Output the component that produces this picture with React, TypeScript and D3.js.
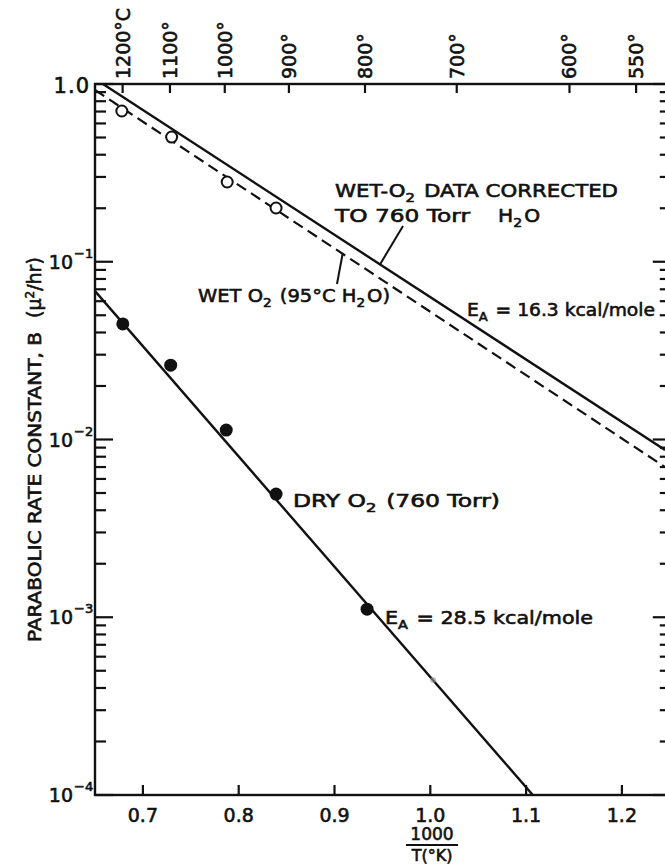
import React from "react";
import * as d3 from "d3";

// Reciprocal temperature axis (1000/T, T in K) and parabolic rate constant (µm²/hr)
const xTicks = [0.7, 0.8, 0.9, 1.0, 1.1, 1.2];
const xTickLabels = ["0.7", "0.8", "0.9", "1.0", "1.1", "1.2"];
const tempC = [1200, 1100, 1000, 900, 800, 700, 600, 550];
const tempLabels = ["1200°C", "1100°", "1000°", "900°", "800°", "700°", "600°", "550°"];
const decadeExps = [0, -1, -2, -3, -4];

// Wet O2 (95°C H2O) measurements
const wetX = [0.678, 0.730, 0.788, 0.839];
const wetB = [0.705, 0.503, 0.281, 0.2006];

// Dry O2 (760 Torr) measurements
const dryX = [0.679, 0.729, 0.787, 0.839, 0.934];
const dryB = [0.0447, 0.0262, 0.0113, 0.00493, 0.00111];
const dryFaintX = [1.003];
const dryFaintB = [0.000444];

// Fitted Arrhenius lines (end points)
const wetCorrLineX = [0.6583, 1.245];
const wetCorrLineB = [1.0, 0.00873];
const wetLineX = [0.65, 1.245];
const wetLineB = [0.925, 0.007];
const dryLineX = [0.65, 1.107];
const dryLineB = [0.0684, 0.0001];

const W = 665;
const H = 864;
const left = 95;
const top = 84;
const bottom = 795;
const right = 669.8;

const FONT = "'DejaVu Sans', Verdana, sans-serif";
const INK = "#111";

const x = d3.scaleLinear().domain([0.65, 1.25]).range([left, right]);
const y = d3.scaleLog().domain([1e-4, 1]).range([bottom, top]);

const minorVals: number[] = [];
for (let e = -4; e < 0; e++) {
  for (let k = 2; k <= 9; k++) minorVals.push(k * Math.pow(10, e));
}

const line = d3
  .line<[number, number]>()
  .x((d) => x(d[0]))
  .y((d) => y(d[1]));

const zip = (a: number[], b: number[]) => a.map((v, i) => [v, b[i]] as [number, number]);

// value of a straight (log-linear) fit line at a given 1000/T
const onLine = (lx: number[], lb: number[], xv: number) => {
  const t = (xv - lx[0]) / (lx[1] - lx[0]);
  return Math.pow(10, Math.log10(lb[0]) + t * (Math.log10(lb[1]) - Math.log10(lb[0])));
};

const txt = {
  fontFamily: FONT,
  fill: INK,
  stroke: INK,
  strokeWidth: 0.6,
} as const;

function Sub({ children }: { children: string }) {
  return (
    <>
      <tspan dy={5} fontSize="0.7em">
        {children}
      </tspan>
      <tspan dy={-5}>{"\u200A"}</tspan>
    </>
  );
}

export default function App() {
  const corrTipX = 0.9475;
  const wetTipX = 0.9085;
  const corrTip = [x(corrTipX), y(onLine(wetCorrLineX, wetCorrLineB, corrTipX))];
  const wetTip = [x(wetTipX), y(onLine(wetLineX, wetLineB, wetTipX))];

  return (
    <svg
      width={W}
      height={H}
      viewBox={`0 0 ${W} ${H}`}
      style={{ position: "absolute", left: 0, top: 0, background: "#fff" }}
    >
      <defs>
        <clipPath id="plot">
          <rect x={left} y={top} width={right - left} height={bottom - top} />
        </clipPath>
      </defs>
      <rect width={W} height={H} fill="#fff" />

      {/* frame */}
      <rect
        x={left}
        y={top}
        width={right - left}
        height={bottom - top}
        fill="none"
        stroke={INK}
        strokeWidth={2.4}
      />

      {/* left axis ticks */}
      {decadeExps.map((e) => (
        <line key={"lm" + e} x1={left} x2={left + 18} y1={y(Math.pow(10, e))} y2={y(Math.pow(10, e))} stroke={INK} strokeWidth={2.2} />
      ))}
      {minorVals.map((v, i) => (
        <line key={"ln" + i} x1={left} x2={left + 11} y1={y(v)} y2={y(v)} stroke={INK} strokeWidth={2.2} />
      ))}
      {/* right axis ticks */}
      {decadeExps.map((e) => (
        <line key={"rm" + e} x1={right} x2={right - 17} y1={y(Math.pow(10, e))} y2={y(Math.pow(10, e))} stroke={INK} strokeWidth={2.2} />
      ))}
      {minorVals.map((v, i) => (
        <line key={"rn" + i} x1={right} x2={right - 10} y1={y(v)} y2={y(v)} stroke={INK} strokeWidth={2.2} />
      ))}

      {/* bottom ticks and labels */}
      {xTicks.map((v, i) => (
        <g key={"bx" + i}>
          <line x1={x(v)} x2={x(v)} y1={bottom} y2={bottom - 10} stroke={INK} strokeWidth={2.2} />
          <text x={x(v)} y={822} fontSize={19} textAnchor="middle" {...txt}>
            {xTickLabels[i]}
          </text>
        </g>
      ))}

      {/* top temperature ticks and labels */}
      {tempC.map((t, i) => {
        const xv = x(1000 / (t + 273.15));
        return (
          <g key={"tx" + i}>
            <line x1={xv} x2={xv} y1={top} y2={top + 9} stroke={INK} strokeWidth={2.2} />
            <text
              transform={`translate(${xv + 7},${top - 5}) rotate(-90)`}
              fontSize={19}
              {...txt}
            >
              {tempLabels[i]}
            </text>
          </g>
        );
      })}

      {/* left decade labels */}
      <text x={90} y={93} fontSize={21} textAnchor="end" letterSpacing={1} {...txt}>
        1.0
      </text>
      {decadeExps
        .filter((e) => e < 0)
        .map((e) => (
          <g key={"dl" + e}>
            <text x={73} y={y(Math.pow(10, e)) + 7} fontSize={19} textAnchor="end" {...txt}>
              10
            </text>
            <text x={74} y={y(Math.pow(10, e)) - 4} fontSize={13} {...txt}>
              {String(e).replace("-", "\u2212")}
            </text>
          </g>
        ))}

      {/* axis titles */}
      <text transform="translate(41,642) rotate(-90)" fontSize={17} textLength={310} lengthAdjust="spacingAndGlyphs" {...txt}>
        PARABOLIC RATE CONSTANT, B
      </text>
      <text transform="translate(41,318) rotate(-90)" fontSize={19} {...txt}>
        (µ
        <tspan dy={-7} fontSize={12}>
          2
        </tspan>
        <tspan dy={7}>/hr)</tspan>
      </text>
      <text x={432} y={840} fontSize={17} textAnchor="middle" {...txt}>
        1000
      </text>
      <line x1={406} x2={458} y1={845} y2={845} stroke={INK} strokeWidth={2.2} />
      <text x={432} y={861} fontSize={16} textAnchor="middle" {...txt}>
        T(°K)
      </text>

      {/* fit lines */}
      <g clipPath="url(#plot)" fill="none" stroke={INK}>
        <path d={line(zip(wetCorrLineX, wetCorrLineB)) || ""} strokeWidth={2.4} />
        <path d={line(zip(wetLineX, wetLineB)) || ""} strokeWidth={2.2} strokeDasharray="11 6" />
        <path d={line(zip(dryLineX, dryLineB)) || ""} strokeWidth={2.4} />
      </g>

      {/* data points */}
      {wetX.map((v, i) => (
        <circle key={"w" + i} cx={x(v)} cy={y(wetB[i])} r={5.5} fill="#fff" stroke={INK} strokeWidth={2} />
      ))}
      {dryX.map((v, i) => (
        <circle key={"d" + i} cx={x(v)} cy={y(dryB[i])} r={6.5} fill={INK} />
      ))}
      {dryFaintX.map((v, i) => (
        <circle key={"f" + i} cx={x(v)} cy={y(dryFaintB[i])} r={3} fill="#999" opacity={0.6} />
      ))}

      {/* annotations */}
      <text x={335} y={197} fontSize={18} textLength={283} lengthAdjust="spacingAndGlyphs" {...txt}>
        WET-O<Sub>2</Sub> DATA CORRECTED
      </text>
      <text x={335} y={222} fontSize={18} textLength={135} lengthAdjust="spacingAndGlyphs" {...txt}>
        TO 760 Torr
      </text>
      <text x={498} y={222} fontSize={18} textLength={42} lengthAdjust="spacingAndGlyphs" {...txt}>
        H<Sub>2</Sub>O
      </text>
      <line x1={403} y1={226} x2={corrTip[0]} y2={corrTip[1]} stroke={INK} strokeWidth={2} />

      <text x={198} y={302} fontSize={18} textLength={192} lengthAdjust="spacingAndGlyphs" {...txt}>
        WET O<Sub>2</Sub> (95°C H<Sub>2</Sub>O)
      </text>
      <line x1={337} y1={284} x2={wetTip[0]} y2={wetTip[1]} stroke={INK} strokeWidth={2} />

      <text x={467} y={316} fontSize={18} textLength={188} lengthAdjust="spacingAndGlyphs" {...txt}>
        E<Sub>A</Sub> = 16.3 kcal/mole
      </text>

      <text x={293} y={507} fontSize={17} textLength={207} lengthAdjust="spacingAndGlyphs" {...txt}>
        DRY O<Sub>2</Sub> (760 Torr)
      </text>
      <text x={385} y={624} fontSize={18} textLength={208} lengthAdjust="spacingAndGlyphs" {...txt}>
        E<Sub>A</Sub> = 28.5 kcal/mole
      </text>
    </svg>
  );
}
